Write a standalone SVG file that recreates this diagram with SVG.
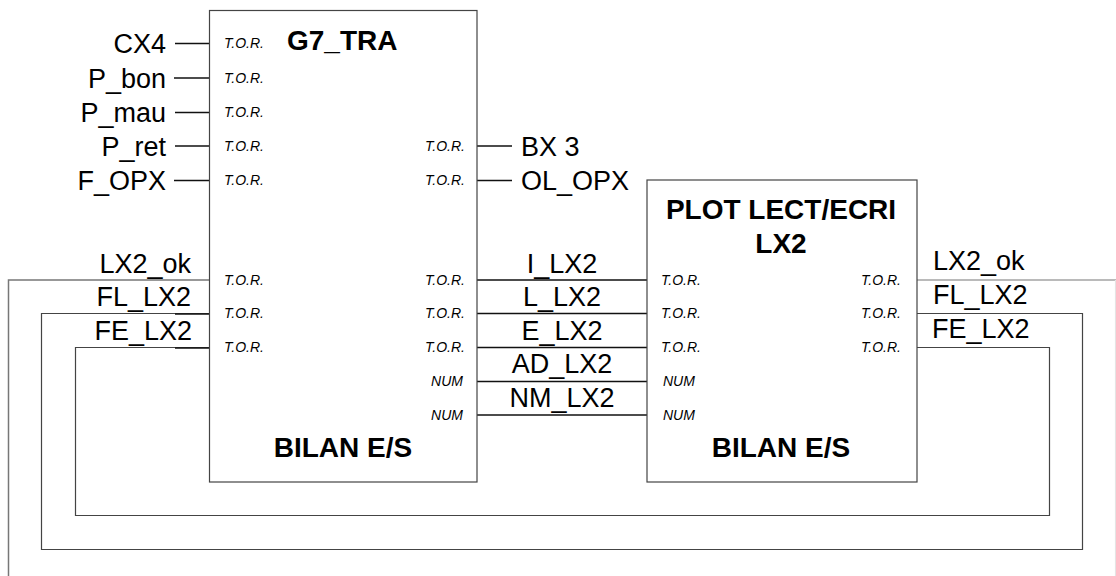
<svg xmlns="http://www.w3.org/2000/svg" width="1116" height="576" viewBox="0 0 1116 576">
<style>
.box{fill:#fff;stroke:#444;stroke-width:1.2}
.ln{fill:none;stroke:#111;stroke-width:1.4}
.lg{fill:none;stroke:#444;stroke-width:1.2}
.lbl{font-family:"Liberation Sans",Arial,sans-serif;font-size:27px;fill:#000}
.tor{font-family:"Liberation Sans",Arial,sans-serif;font-size:14px;font-style:italic;fill:#000}
.ttl{font-family:"Liberation Sans",Arial,sans-serif;font-size:28px;font-weight:bold;fill:#000}
.e{text-anchor:end}
.m{text-anchor:middle}
</style>
<rect width="1116" height="576" fill="#fff"/>
<g id="connectors">
<line class="ln" x1="175" y1="43.5" x2="209" y2="43.5"/>
<line class="ln" x1="174" y1="78" x2="209" y2="78"/>
<line class="ln" x1="175" y1="112.5" x2="209" y2="112.5"/>
<line class="ln" x1="175" y1="146" x2="209" y2="146"/>
<line class="ln" x1="174" y1="180.5" x2="209" y2="180.5"/>
<line class="ln" x1="477" y1="146" x2="512" y2="146"/>
<line class="ln" x1="477" y1="180.5" x2="512" y2="180.5"/>
<line class="ln" x1="477" y1="280" x2="647" y2="280"/>
<line class="ln" x1="477" y1="313.5" x2="647" y2="313.5"/>
<line class="ln" x1="477" y1="347.5" x2="647" y2="347.5"/>
<line class="ln" x1="477" y1="381.5" x2="647" y2="381.5"/>
<line class="ln" x1="477" y1="415" x2="647" y2="415"/>
<polyline class="lg" points="209,280 8.5,280 8.5,576" style="stroke:#777;stroke-width:1.5"/>
<polyline class="lg" points="209,313.5 41.5,313.5 41.5,549.5 1082.5,549.5 1082.5,313.5 917,313.5"/>
<polyline class="lg" points="209,347.5 75.5,347.5 75.5,515.5 1049.5,515.5 1049.5,347.5 917,347.5"/>
<line class="ln" x1="175" y1="314" x2="209" y2="314"/>
<line class="ln" x1="175" y1="348" x2="209" y2="348"/>
<line class="lg" x1="917" y1="280" x2="1116" y2="280" style="stroke:#777"/>
<line class="lg" x1="1115.5" y1="280" x2="1115.5" y2="576" style="stroke:#e4e4e4"/>
</g>
<g id="labels">
<text class="lbl e" x="166" y="53">CX4</text>
<text class="lbl e" x="166" y="87.5">P_bon</text>
<text class="lbl e" x="166" y="122">P_mau</text>
<text class="lbl e" x="166" y="155.5">P_ret</text>
<text class="lbl e" x="166" y="190">F_OPX</text>
<text class="lbl" x="521" y="155.5">BX 3</text>
<text class="lbl" x="521" y="190">OL_OPX</text>
<text class="lbl e" x="191" y="272.5">LX2_ok</text>
<text class="lbl e" x="191" y="305.5">FL_LX2</text>
<text class="lbl e" x="192" y="339.5">FE_LX2</text>
<text class="lbl m" x="562" y="272.5">I_LX2</text>
<text class="lbl m" x="562" y="305.5">L_LX2</text>
<text class="lbl m" x="562" y="339.5">E_LX2</text>
<text class="lbl m" x="562" y="373">AD_LX2</text>
<text class="lbl m" x="562" y="406.5">NM_LX2</text>
<text class="lbl" x="933" y="270">LX2_ok</text>
<text class="lbl" x="933" y="304">FL_LX2</text>
<text class="lbl" x="932" y="338">FE_LX2</text>
</g>
<g id="g7_tra">
<rect class="box" x="209.5" y="10.5" width="267.5" height="471.5"/>
<text class="ttl" x="287" y="50">G7_TRA</text>
<text class="ttl m" x="343" y="457">BILAN E/S</text>
<text class="tor" x="224" y="48">T.O.R.</text>
<text class="tor" x="224" y="82.5">T.O.R.</text>
<text class="tor" x="224" y="117">T.O.R.</text>
<text class="tor" x="224" y="150.5">T.O.R.</text>
<text class="tor" x="224" y="185">T.O.R.</text>
<text class="tor" x="224" y="284.5">T.O.R.</text>
<text class="tor" x="224" y="318">T.O.R.</text>
<text class="tor" x="224" y="352">T.O.R.</text>
<text class="tor e" x="465" y="150.5">T.O.R.</text>
<text class="tor e" x="465" y="185">T.O.R.</text>
<text class="tor e" x="465" y="284.5">T.O.R.</text>
<text class="tor e" x="465" y="318">T.O.R.</text>
<text class="tor e" x="465" y="352">T.O.R.</text>
<text class="tor e" x="463" y="386">NUM</text>
<text class="tor e" x="463" y="419.5">NUM</text>
</g>
<g id="plot_lect_ecri">
<rect class="box" x="647" y="180" width="270" height="302"/>
<text class="ttl m" x="781" y="219">PLOT LECT/ECRI</text>
<text class="ttl m" x="781" y="253">LX2</text>
<text class="ttl m" x="781" y="457">BILAN E/S</text>
<text class="tor" x="661" y="284.5">T.O.R.</text>
<text class="tor" x="661" y="318">T.O.R.</text>
<text class="tor" x="661" y="352">T.O.R.</text>
<text class="tor" x="663" y="386">NUM</text>
<text class="tor" x="663" y="419.5">NUM</text>
<text class="tor e" x="901" y="284.5">T.O.R.</text>
<text class="tor e" x="901" y="318">T.O.R.</text>
<text class="tor e" x="901" y="352">T.O.R.</text>
</g>
</svg>
